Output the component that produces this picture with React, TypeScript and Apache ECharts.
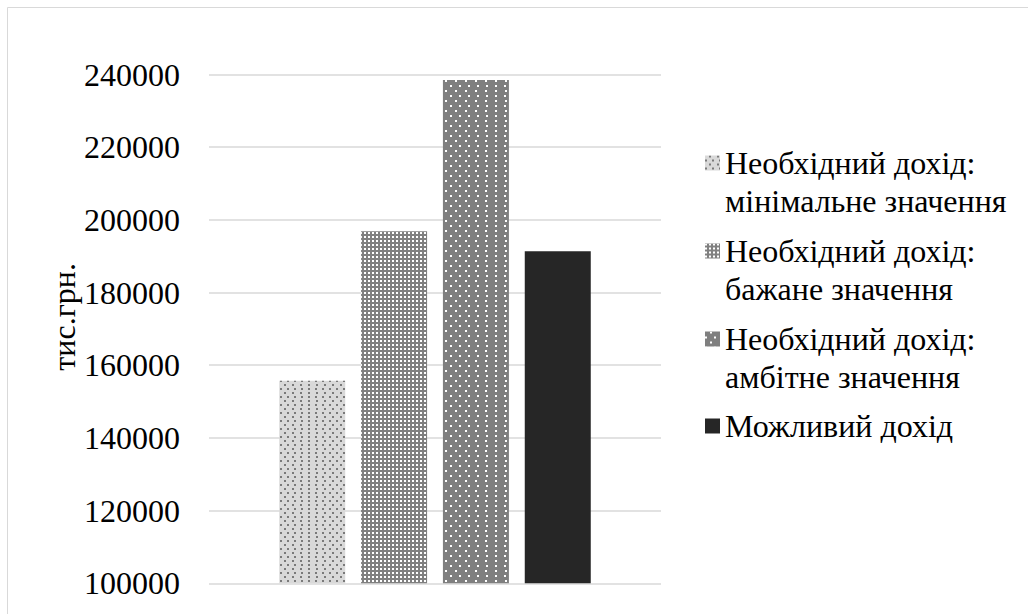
import React, { useEffect, useRef } from "react";
import * as echarts from "echarts";

const categories = [""];
const seriesNames = [
  "Необхідний дохід:\nмінімальне значення",
  "Необхідний дохід:\nбажане значення",
  "Необхідний дохід:\nамбітне значення",
  "Можливий дохід",
];
const values = [155700, 196900, 238500, 191400];
const yMin = 100000;
const yMax = 240000;
const yStep = 20000;
const axisName = "тис.грн.";

const FONT = "Liberation Serif";

const barColors = ["#d9d9d9", "#808080", "#7f7f7f", "#262626"];
const decals: any[] = [
  {
    symbol: "rect",
    symbolSize: 1,
    color: "#7a7a7a",
    dashArrayX: [[2, 5], [0, 3.5, 2, 1.5]],
    dashArrayY: [2, 1.5],
  },
  {
    symbol: "rect",
    symbolSize: 1,
    color: "#ffffff",
    dashArrayX: [2, 1.7],
    dashArrayY: [2, 1.7],
  },
  {
    symbol: "rect",
    symbolSize: 1,
    color: "#ffffff",
    dashArrayX: [[1.5, 7], [0, 4.25, 1.5, 2.75]],
    dashArrayY: [1.5, 2.7],
  },
  null,
];

export default function App() {
  const ref = useRef<HTMLDivElement>(null);
  useEffect(() => {
    if (!ref.current) return;
    const chart = echarts.init(ref.current, undefined, { renderer: "svg" });
    const lineH = 38;
    const centers = [163, 251, 339, 426];
    const legends = seriesNames.map((n, i) => {
      const two = n.indexOf("\n") >= 0;
      return {
        data: [n],
        orient: "vertical",
        left: 705,
        top: two ? centers[i] - lineH * 1.5 : centers[i] - lineH / 2,
        padding: 0,
        icon: "rect",
        itemWidth: 15,
        itemHeight: 15,
        itemGap: 0,
        selectedMode: false,
        formatter: (name: string) => (two ? "\n" + name : name),
        textStyle: {
          fontFamily: FONT,
          fontSize: 32,
          color: "#000",
          lineHeight: lineH,
        },
      };
    });
    chart.setOption({
      animation: false,
      backgroundColor: "#fff",
      textStyle: { fontFamily: FONT },
      graphic: [
        {
          type: "rect",
          silent: true,
          z: -10,
          shape: { x: 7.5, y: 7.5, width: 1100, height: 700 },
          style: { fill: "none", stroke: "#d9d9d9", lineWidth: 1 },
        },
      ],
      grid: { left: 209, right: 367, top: 74.5, bottom: 30.7, containLabel: false },
      legend: legends,
      xAxis: {
        type: "category",
        data: categories,
        axisLine: { show: false },
        axisTick: { show: false },
        axisLabel: { show: false },
      },
      yAxis: {
        type: "value",
        min: yMin,
        max: yMax,
        interval: yStep,
        name: axisName,
        nameLocation: "middle",
        nameGap: 125,
        nameRotate: 90,
        nameTextStyle: {
          fontFamily: FONT,
          fontSize: 32,
          color: "#000",
          padding: [0, 0, 0, 24],
        },
        axisLine: { show: false },
        axisTick: { show: false },
        axisLabel: {
          fontFamily: FONT,
          fontSize: 32,
          color: "#000",
          margin: 29,
          formatter: (v: number) => String(v),
        },
        splitLine: { lineStyle: { color: "#d9d9d9", width: 1.5 } },
      },
      series: seriesNames.map((n, i) => ({
        type: "bar",
        name: n,
        data: [values[i]],
        barWidth: 66,
        barGap: "24%",
        itemStyle: decals[i]
          ? { color: barColors[i], decal: decals[i] }
          : { color: barColors[i] },
      })),
    });
    return () => chart.dispose();
  }, []);
  return (
    <div
      ref={ref}
      style={{ position: "fixed", left: 0, top: 0, width: 1028, height: 614 }}
    />
  );
}
